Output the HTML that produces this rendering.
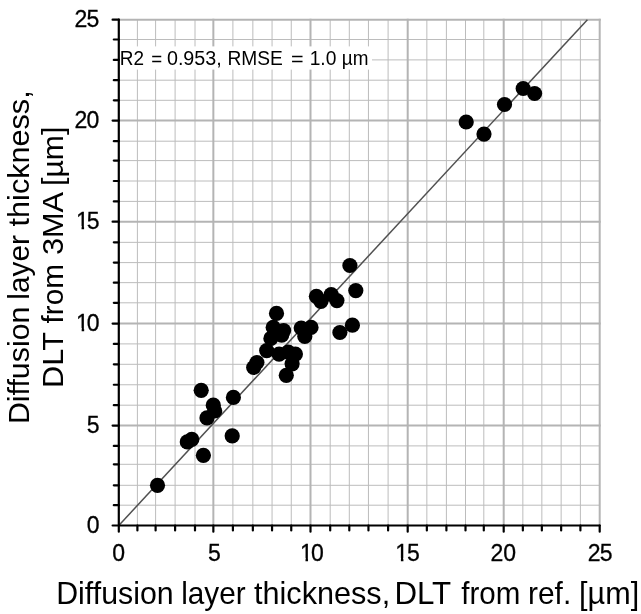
<!DOCTYPE html>
<html lang="en"><head><meta charset="utf-8"><title>Diffusion layer thickness: DLT from 3MA vs. DLT from ref.</title>
<style>html,body{margin:0;padding:0;background:#fff}body{width:641px;height:614px;overflow:hidden}svg{display:block}text{font-family:"Liberation Sans",sans-serif;fill:#000}</style>
</head><body>
<svg width="641" height="614" viewBox="0 0 641 614">
<rect width="641" height="614" fill="#fff"/>
<g stroke="#bcbcbc" stroke-width="1" fill="none">
<line x1="137.4" y1="19.7" x2="137.4" y2="525.5"/>
<line x1="118.8" y1="505.2" x2="599.7" y2="505.2"/>
<line x1="155.6" y1="19.7" x2="155.6" y2="525.5"/>
<line x1="118.8" y1="485.3" x2="599.7" y2="485.3"/>
<line x1="175.1" y1="19.7" x2="175.1" y2="525.5"/>
<line x1="118.8" y1="464.3" x2="599.7" y2="464.3"/>
<line x1="195.0" y1="19.7" x2="195.0" y2="525.5"/>
<line x1="118.8" y1="445.9" x2="599.7" y2="445.9"/>
<line x1="232.9" y1="19.7" x2="232.9" y2="525.5"/>
<line x1="118.8" y1="405.2" x2="599.7" y2="405.2"/>
<line x1="252.85" y1="19.7" x2="252.85" y2="525.5"/>
<line x1="118.8" y1="384.75" x2="599.7" y2="384.75"/>
<line x1="272.05" y1="19.7" x2="272.05" y2="525.5"/>
<line x1="118.8" y1="364.3" x2="599.7" y2="364.3"/>
<line x1="291.25" y1="19.7" x2="291.25" y2="525.5"/>
<line x1="118.8" y1="343.9" x2="599.7" y2="343.9"/>
<line x1="330.2" y1="19.7" x2="330.2" y2="525.5"/>
<line x1="118.8" y1="302.8" x2="599.7" y2="302.8"/>
<line x1="349.3" y1="19.7" x2="349.3" y2="525.5"/>
<line x1="118.8" y1="282.65" x2="599.7" y2="282.65"/>
<line x1="368.45" y1="19.7" x2="368.45" y2="525.5"/>
<line x1="118.8" y1="262.6" x2="599.7" y2="262.6"/>
<line x1="388.1" y1="19.7" x2="388.1" y2="525.5"/>
<line x1="118.8" y1="242.35" x2="599.7" y2="242.35"/>
<line x1="426.85" y1="19.7" x2="426.85" y2="525.5"/>
<line x1="118.8" y1="201.4" x2="599.7" y2="201.4"/>
<line x1="446.4" y1="19.7" x2="446.4" y2="525.5"/>
<line x1="118.8" y1="181.0" x2="599.7" y2="181.0"/>
<line x1="465.5" y1="19.7" x2="465.5" y2="525.5"/>
<line x1="118.8" y1="160.6" x2="599.7" y2="160.6"/>
<line x1="483.8" y1="19.7" x2="483.8" y2="525.5"/>
<line x1="118.8" y1="141.2" x2="599.7" y2="141.2"/>
<line x1="522.85" y1="19.7" x2="522.85" y2="525.5"/>
<line x1="118.8" y1="100.3" x2="599.7" y2="100.3"/>
<line x1="541.85" y1="19.7" x2="541.85" y2="525.5"/>
<line x1="118.8" y1="80.2" x2="599.7" y2="80.2"/>
<line x1="561.15" y1="19.7" x2="561.15" y2="525.5"/>
<line x1="118.8" y1="59.9" x2="599.7" y2="59.9"/>
<line x1="580.4" y1="19.7" x2="580.4" y2="525.5"/>
<line x1="118.8" y1="39.5" x2="599.7" y2="39.5"/>
</g>
<g stroke="#b4b4b4" stroke-width="2" fill="none">
<line x1="213.35" y1="18.7" x2="213.35" y2="525.5"/>
<line x1="118.8" y1="425.6" x2="600.7" y2="425.6"/>
<line x1="310.5" y1="18.7" x2="310.5" y2="525.5"/>
<line x1="118.8" y1="323.6" x2="600.7" y2="323.6"/>
<line x1="407.7" y1="18.7" x2="407.7" y2="525.5"/>
<line x1="118.8" y1="221.7" x2="600.7" y2="221.7"/>
<line x1="503.7" y1="18.7" x2="503.7" y2="525.5"/>
<line x1="118.8" y1="120.6" x2="600.7" y2="120.6"/>
<line x1="599.7" y1="18.7" x2="599.7" y2="525.5"/>
<line x1="118.8" y1="19.7" x2="600.7" y2="19.7"/>
</g>
<rect x="119" y="46.4" width="253" height="23.2" fill="#fff"/>
<line x1="118.8" y1="525.5" x2="587.4" y2="19.7" stroke="#505050" stroke-width="1.5"/>
<g stroke="#000" stroke-width="2.2" fill="none" stroke-linecap="round">
<line x1="118.8" y1="19.7" x2="118.8" y2="531.7"/>
<line x1="112.6" y1="525.5" x2="599.7" y2="525.5"/>
<line x1="137.40" y1="525.5" x2="137.40" y2="530.5"/>
<line x1="113.8" y1="505.20" x2="118.8" y2="505.20"/>
<line x1="155.60" y1="525.5" x2="155.60" y2="530.5"/>
<line x1="113.8" y1="485.30" x2="118.8" y2="485.30"/>
<line x1="175.10" y1="525.5" x2="175.10" y2="530.5"/>
<line x1="113.8" y1="464.30" x2="118.8" y2="464.30"/>
<line x1="195.00" y1="525.5" x2="195.00" y2="530.5"/>
<line x1="113.8" y1="445.90" x2="118.8" y2="445.90"/>
<line x1="213.35" y1="525.5" x2="213.35" y2="531.7"/>
<line x1="112.6" y1="425.60" x2="118.8" y2="425.60"/>
<line x1="232.90" y1="525.5" x2="232.90" y2="530.5"/>
<line x1="113.8" y1="405.20" x2="118.8" y2="405.20"/>
<line x1="252.85" y1="525.5" x2="252.85" y2="530.5"/>
<line x1="113.8" y1="384.75" x2="118.8" y2="384.75"/>
<line x1="272.05" y1="525.5" x2="272.05" y2="530.5"/>
<line x1="113.8" y1="364.30" x2="118.8" y2="364.30"/>
<line x1="291.25" y1="525.5" x2="291.25" y2="530.5"/>
<line x1="113.8" y1="343.90" x2="118.8" y2="343.90"/>
<line x1="310.50" y1="525.5" x2="310.50" y2="531.7"/>
<line x1="112.6" y1="323.60" x2="118.8" y2="323.60"/>
<line x1="330.20" y1="525.5" x2="330.20" y2="530.5"/>
<line x1="113.8" y1="302.80" x2="118.8" y2="302.80"/>
<line x1="349.30" y1="525.5" x2="349.30" y2="530.5"/>
<line x1="113.8" y1="282.65" x2="118.8" y2="282.65"/>
<line x1="368.45" y1="525.5" x2="368.45" y2="530.5"/>
<line x1="113.8" y1="262.60" x2="118.8" y2="262.60"/>
<line x1="388.10" y1="525.5" x2="388.10" y2="530.5"/>
<line x1="113.8" y1="242.35" x2="118.8" y2="242.35"/>
<line x1="407.70" y1="525.5" x2="407.70" y2="531.7"/>
<line x1="112.6" y1="221.70" x2="118.8" y2="221.70"/>
<line x1="426.85" y1="525.5" x2="426.85" y2="530.5"/>
<line x1="113.8" y1="201.40" x2="118.8" y2="201.40"/>
<line x1="446.40" y1="525.5" x2="446.40" y2="530.5"/>
<line x1="113.8" y1="181.00" x2="118.8" y2="181.00"/>
<line x1="465.50" y1="525.5" x2="465.50" y2="530.5"/>
<line x1="113.8" y1="160.60" x2="118.8" y2="160.60"/>
<line x1="483.80" y1="525.5" x2="483.80" y2="530.5"/>
<line x1="113.8" y1="141.20" x2="118.8" y2="141.20"/>
<line x1="503.70" y1="525.5" x2="503.70" y2="531.7"/>
<line x1="112.6" y1="120.60" x2="118.8" y2="120.60"/>
<line x1="522.85" y1="525.5" x2="522.85" y2="530.5"/>
<line x1="113.8" y1="100.30" x2="118.8" y2="100.30"/>
<line x1="541.85" y1="525.5" x2="541.85" y2="530.5"/>
<line x1="113.8" y1="80.20" x2="118.8" y2="80.20"/>
<line x1="561.15" y1="525.5" x2="561.15" y2="530.5"/>
<line x1="113.8" y1="59.90" x2="118.8" y2="59.90"/>
<line x1="580.40" y1="525.5" x2="580.40" y2="530.5"/>
<line x1="113.8" y1="39.50" x2="118.8" y2="39.50"/>
<line x1="599.70" y1="525.5" x2="599.70" y2="531.7"/>
<line x1="112.6" y1="19.70" x2="118.8" y2="19.70"/>
</g>
<g fill="#000">
<circle cx="466.2" cy="122.0" r="7.6"/>
<circle cx="484.0" cy="134.1" r="7.6"/>
<circle cx="504.5" cy="104.5" r="7.6"/>
<circle cx="523.2" cy="88.5" r="7.6"/>
<circle cx="534.6" cy="93.5" r="7.6"/>
<circle cx="349.9" cy="265.5" r="7.6"/>
<circle cx="355.8" cy="290.6" r="7.6"/>
<circle cx="352.4" cy="325.2" r="7.6"/>
<circle cx="339.9" cy="332.5" r="7.6"/>
<circle cx="316.4" cy="296.3" r="7.6"/>
<circle cx="320.9" cy="301.3" r="7.6"/>
<circle cx="331.2" cy="294.5" r="7.6"/>
<circle cx="336.9" cy="300.6" r="7.6"/>
<circle cx="276.5" cy="313.4" r="7.6"/>
<circle cx="273.2" cy="327.4" r="7.6"/>
<circle cx="283.6" cy="330.6" r="7.6"/>
<circle cx="281.7" cy="335.2" r="7.6"/>
<circle cx="270.9" cy="338.4" r="7.6"/>
<circle cx="266.7" cy="350.6" r="7.6"/>
<circle cx="301.2" cy="328.0" r="7.6"/>
<circle cx="311.0" cy="327.4" r="7.6"/>
<circle cx="304.8" cy="336.5" r="7.6"/>
<circle cx="279.1" cy="354.1" r="7.6"/>
<circle cx="288.2" cy="352.1" r="7.6"/>
<circle cx="295.4" cy="354.1" r="7.6"/>
<circle cx="292.1" cy="363.8" r="7.6"/>
<circle cx="286.3" cy="375.3" r="7.6"/>
<circle cx="256.9" cy="362.5" r="7.6"/>
<circle cx="253.7" cy="367.5" r="7.6"/>
<circle cx="201.2" cy="390.3" r="7.6"/>
<circle cx="233.4" cy="397.4" r="7.6"/>
<circle cx="213.3" cy="405.2" r="7.6"/>
<circle cx="214.7" cy="411.0" r="7.6"/>
<circle cx="207.0" cy="417.9" r="7.6"/>
<circle cx="232.2" cy="435.9" r="7.6"/>
<circle cx="191.8" cy="439.4" r="7.6"/>
<circle cx="187.3" cy="441.9" r="7.6"/>
<circle cx="203.4" cy="455.3" r="7.6"/>
<circle cx="157.5" cy="485.3" r="7.6"/>
</g>
<g>
<text x="112.25" y="561" font-size="23.0px" stroke="#000" stroke-width="0.3">0</text>
<text x="208.05" y="561" font-size="23.0px" stroke="#000" stroke-width="0.3">5</text>
<text x="299.96 311.10" y="561" font-size="23.0px" stroke="#000" stroke-width="0.3">10</text>
<rect x="300.63" y="557.97" width="4.86" height="4.33" fill="#fff"/>
<rect x="308.02" y="557.97" width="4.09" height="4.33" fill="#fff"/>
<text x="395.36 407.00" y="561" font-size="23.0px" stroke="#000" stroke-width="0.3">15</text>
<rect x="396.03" y="557.97" width="4.86" height="4.33" fill="#fff"/>
<rect x="403.42" y="557.97" width="4.09" height="4.33" fill="#fff"/>
<text x="490.41 503.20" y="561" font-size="23.0px" stroke="#000" stroke-width="0.3">20</text>
<text x="587.71 599.80" y="561" font-size="23.0px" stroke="#000" stroke-width="0.3">25</text>
</g>
<g>
<text x="86.71" y="533" font-size="23.0px" stroke="#000" stroke-width="0.3">0</text>
<text x="86.86" y="433" font-size="23.0px" stroke="#000" stroke-width="0.3">5</text>
<text x="76.12 86.71" y="331" font-size="23.0px" stroke="#000" stroke-width="0.3">10</text>
<rect x="76.79" y="327.97" width="4.86" height="4.33" fill="#fff"/>
<rect x="84.18" y="327.97" width="4.09" height="4.33" fill="#fff"/>
<text x="76.02 86.71" y="229" font-size="23.0px" stroke="#000" stroke-width="0.3">15</text>
<rect x="76.69" y="225.97" width="4.86" height="4.33" fill="#fff"/>
<rect x="84.08" y="225.97" width="4.09" height="4.33" fill="#fff"/>
<text x="74.47 86.61" y="128" font-size="23.0px" stroke="#000" stroke-width="0.3">20</text>
<text x="74.47 86.61" y="27" font-size="23.0px" stroke="#000" stroke-width="0.3">25</text>
</g>
<text font-size="20.5px"><tspan x="119.75" y="65" textLength="24.21" lengthAdjust="spacingAndGlyphs">R2</tspan> <tspan x="151.29" y="66" textLength="10.94" lengthAdjust="spacingAndGlyphs">=</tspan> <tspan x="166.93" y="65" textLength="54.84" lengthAdjust="spacingAndGlyphs">0.953,</tspan> <tspan x="227.53" y="65" textLength="55.40" lengthAdjust="spacingAndGlyphs">RMSE</tspan> <tspan x="291.04" y="66" textLength="12.62" lengthAdjust="spacingAndGlyphs">=</tspan> <tspan x="309.64" y="65" textLength="26.71" lengthAdjust="spacingAndGlyphs">1.0</tspan> <tspan x="341.81" y="65" textLength="26.64" lengthAdjust="spacingAndGlyphs">µm</tspan></text>
<text font-size="30.9px"><tspan x="56.22" y="604" textLength="117.44" lengthAdjust="spacingAndGlyphs">Diffusion</tspan> <tspan x="181.19" y="604" textLength="64.50" lengthAdjust="spacingAndGlyphs">layer</tspan> <tspan x="254.04" y="604" textLength="136.11" lengthAdjust="spacingAndGlyphs">thickness,</tspan> <tspan x="394.46" y="604" textLength="56.22" lengthAdjust="spacingAndGlyphs">DLT</tspan> <tspan x="461.28" y="604" textLength="59.06" lengthAdjust="spacingAndGlyphs">from</tspan> <tspan x="528.01" y="604" textLength="43.22" lengthAdjust="spacingAndGlyphs">ref.</tspan> <tspan x="579.12" y="604" textLength="60.06" lengthAdjust="spacingAndGlyphs">[µm]</tspan></text>
<g transform="rotate(-90)">
<text font-size="29.7px"><tspan x="-424.08" y="29" textLength="117.44" lengthAdjust="spacingAndGlyphs">Diffusion</tspan> <tspan x="-299.71" y="29" textLength="64.71" lengthAdjust="spacingAndGlyphs">layer</tspan> <tspan x="-226.46" y="29" textLength="136.11" lengthAdjust="spacingAndGlyphs">thickness,</tspan></text>
<text font-size="29.7px"><tspan x="-387.90" y="63" textLength="55.27" lengthAdjust="spacingAndGlyphs">DLT</tspan> <tspan x="-323.42" y="63" textLength="59.27" lengthAdjust="spacingAndGlyphs">from</tspan> <tspan x="-255.04" y="63" textLength="61.40" lengthAdjust="spacingAndGlyphs">3MA</tspan> <tspan x="-185.95" y="63" textLength="59.20" lengthAdjust="spacingAndGlyphs">[µm]</tspan></text>
</g>
</svg></body></html>
